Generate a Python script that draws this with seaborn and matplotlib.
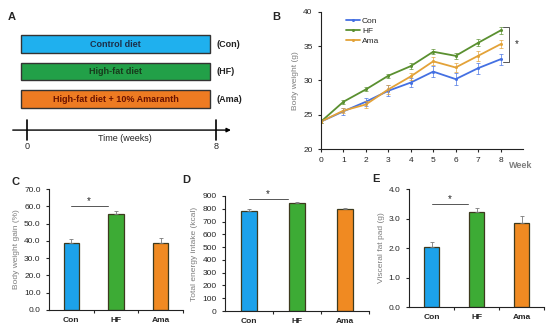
import numpy as np
import pandas as pd
import matplotlib
matplotlib.use("Agg")
import matplotlib.pyplot as plt
import seaborn as sns

# Panel A - study design
diet_labels = ["Control diet", "High-fat diet", "High-fat diet + 10% Amaranth"]
diet_codes = ["(Con)", "(HF)", "(Ama)"]
diet_weeks = [8, 8, 8]
diet_fill = ["#1fb0ee", "#22a048", "#ee7b22"]
diet_text = ["#1c2f4a", "#173a1c", "#6a1200"]

# Panel B - body weight by week
weeks = [0, 1, 2, 3, 4, 5, 6, 7, 8]
bw_con = [24.0, 25.5, 26.9, 28.5, 29.7, 31.3, 30.2, 31.8, 33.1]
bw_hf = [24.0, 26.9, 28.7, 30.7, 32.1, 34.2, 33.6, 35.5, 37.3]
bw_ama = [24.0, 25.6, 26.5, 28.7, 30.6, 32.8, 31.9, 33.6, 35.3]
bw_con_err = [0.2, 0.5, 0.6, 0.8, 0.7, 0.8, 0.9, 0.8, 0.8]
bw_hf_err = [0.2, 0.3, 0.3, 0.3, 0.4, 0.4, 0.4, 0.5, 0.5]
bw_ama_err = [0.2, 0.4, 0.5, 0.6, 0.5, 0.6, 0.7, 0.7, 0.6]

# Panels C-E - endpoint measures
groups = ["Con", "HF", "Ama"]
gain = [38.5, 55.8, 38.8]
gain_err = [2.8, 1.4, 3.0]
energy = [780, 845, 795]
energy_err = [18, 10, 8]
fat = [2.02, 3.22, 2.85]
fat_err = [0.18, 0.15, 0.22]

LINE_COLORS = ["#4470e2", "#5a9030", "#e3a238"]
BAR_COLORS = ["#1ca2ea", "#3dab35", "#f08a22"]
EDGE = "#3d3a1e"

sns.set_theme(style="ticks")
plt.rcParams["font.family"] = ["Liberation Sans", "DejaVu Sans"]
plt.rcParams.update({
    "axes.linewidth": 0.8,
    "xtick.major.width": 0.8,
    "ytick.major.width": 0.8,
    "xtick.major.size": 2.5,
    "ytick.major.size": 2.5,
    "xtick.labelsize": 6,
    "ytick.labelsize": 6,
    "axes.edgecolor": "#222222",
})

W, H = 550, 331
fig = plt.figure(figsize=(W / 100, H / 100), dpi=100)


def px_axes(x0, y0, x1, y1):
    # pixel box (top-left origin) -> figure axes
    return fig.add_axes([x0 / W, 1 - y1 / H, (x1 - x0) / W, (y1 - y0) / H])


def letter(x, y, s):
    fig.text(x / W, 1 - y / H, s, fontsize=8, fontweight="bold", ha="center", va="center")


# ---------- A ----------
ax_a = px_axes(0, 0, 275, 165.5)
ax_a.set_xlim(-27 / 23.625, 248 / 23.625)
ax_a.set_ylim(4.418, -1.6)
ax_a.axis("off")
rows = np.arange(len(diet_labels))
ax_a.barh(rows, diet_weeks, left=-0.25, height=0.62, color=diet_fill,
          edgecolor="#333333", linewidth=1)
for r, lab, code, tc, w in zip(rows, diet_labels, diet_codes, diet_text, diet_weeks):
    ax_a.text(-0.25 + w / 2, r, lab, ha="center", va="center", fontsize=6.5,
              fontweight="bold", color=tc)
    ax_a.text(w, r, code, ha="left", va="center", fontsize=6.5, fontweight="bold",
              color="#222222")
ax_a.annotate("", xy=(8.75, 3.13), xytext=(-0.72, 3.13),
              arrowprops=dict(arrowstyle="-|>", color="black", lw=1, mutation_scale=6))
for wk in [weeks[0], weeks[-1]]:
    ax_a.plot([wk, wk], [2.76, 3.49], color="black", lw=1.2)
    ax_a.text(wk, 3.72, str(wk), ha="center", va="center", fontsize=6.5)
ax_a.text(4.15, 3.42, "Time (weeks)", ha="center", va="center", fontsize=6.5)

# ---------- B ----------
ax_b = px_axes(321, 12, 523, 149)
bw = pd.DataFrame({
    "week": weeks * 3,
    "weight": bw_con + bw_hf + bw_ama,
    "group": ["Con"] * 9 + ["HF"] * 9 + ["Ama"] * 9,
})
sns.lineplot(data=bw, x="week", y="weight", hue="group", hue_order=groups,
             palette=LINE_COLORS, marker="o", markersize=2.2, markeredgewidth=0,
             linewidth=1.3, ax=ax_b)
for vals, errs, c in zip([bw_con, bw_hf, bw_ama], [bw_con_err, bw_hf_err, bw_ama_err], LINE_COLORS):
    ax_b.errorbar(weeks, vals, yerr=errs, fmt="none", ecolor=c, elinewidth=0.6,
                  capsize=1.2, capthick=0.6, alpha=0.8)
ax_b.set_xlim(0, 9)
ax_b.set_ylim(20, 40)
ax_b.set_xticks(weeks)
ax_b.set_yticks([20, 25, 30, 35, 40])
ax_b.set_xlabel("")
ax_b.set_ylabel("Body weight (g)", fontsize=6, color="#7f7f7f", labelpad=3)
ax_b.text(0.99, -0.117, "Week", transform=ax_b.transAxes, ha="center", va="center",
          fontsize=6.5, fontweight="bold", color="#7f7f7f")
ax_b.legend(loc="upper left", bbox_to_anchor=(0.1, 1.0), frameon=False, fontsize=6,
            handlelength=1.6, handletextpad=0.3, labelspacing=0.25, borderaxespad=0.2)
sns.despine(ax=ax_b)
# significance bracket at week 8
top, bot = bw_hf[-1] + 0.5, bw_con[-1] - 0.4
ax_b.plot([8.1, 8.37, 8.37, 8.1], [top, top, bot, bot], color="#555555", lw=0.7, clip_on=False)
ax_b.text(8.7, (top + bot) / 2, "*", ha="center", va="center", fontsize=7)


# ---------- C-E ----------
def bar_panel(box, values, errs, ylim, yticks, fmt, ylabel, sig_y):
    ax = px_axes(*box)
    sns.barplot(x=groups, y=values, hue=groups, palette=BAR_COLORS, width=0.34,
                edgecolor=EDGE, linewidth=0.9, legend=False, ax=ax, saturation=1)
    ax.errorbar(range(len(groups)), values, yerr=[np.zeros(len(errs)), errs], fmt="none",
                ecolor="#7a7a7a", elinewidth=0.6, capsize=1.2, capthick=0.6)
    ax.set_xlim(-0.5, 2.5)
    ax.set_ylim(*ylim)
    ax.set_yticks(yticks)
    ax.set_yticklabels([fmt.format(t) for t in yticks])
    ax.set_xticks([0.5, 1.5, 2.5])
    ax.set_xticklabels([])
    ax.set_xticks(range(len(groups)), minor=True)
    ax.set_xticklabels(groups, minor=True, fontweight="bold", fontsize=6)
    ax.tick_params(axis="x", which="minor", length=0, pad=5)
    ax.set_ylabel(ylabel, fontsize=6, color="#7f7f7f", labelpad=3)
    ax.plot([0, 0.82], [sig_y, sig_y], color="#555555", lw=0.7, clip_on=False)
    ax.text(0.4, sig_y, "*", ha="center", va="bottom", fontsize=7)
    sns.despine(ax=ax)
    return ax


bar_panel((49, 189, 183, 310), gain, gain_err, (0, 70), np.arange(0, 71, 10),
          "{:.1f}", "Body weight gain (%)", 60)
bar_panel((225, 196, 369, 311), energy, energy_err, (0, 900), np.arange(0, 901, 100),
          "{:.0f}", "Total energy intake (kcal)", 875)
bar_panel((409, 189, 544, 307), fat, fat_err, (0, 4), np.arange(0, 4.1, 1.0),
          "{:.1f}", "Visceral fat pad (g)", 3.48)

letter(12, 17, "A")
letter(276, 17, "B")
letter(15, 182, "C")
letter(186, 180, "D")
letter(376, 179, "E")

fig.savefig("out.png", dpi=100)
